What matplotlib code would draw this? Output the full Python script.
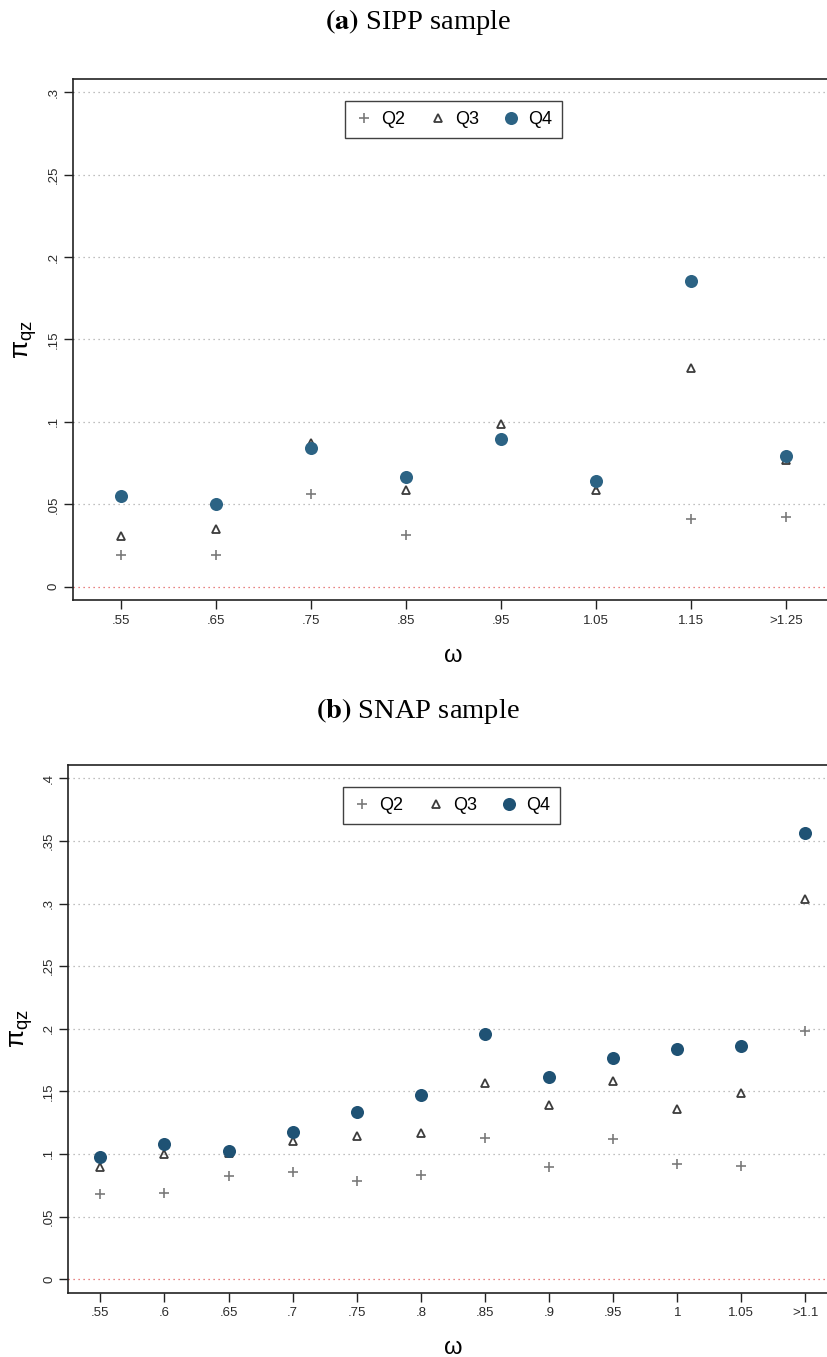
import numpy as np
import matplotlib
matplotlib.use('Agg')
import matplotlib.pyplot as plt

plt.rcParams['font.family'] = ['Liberation Sans', 'DejaVu Sans']
plt.rcParams['mathtext.fontset'] = 'custom'
plt.rcParams['mathtext.rm'] = 'Liberation Sans'
plt.rcParams['mathtext.it'] = 'Liberation Sans'
plt.rcParams['mathtext.default'] = 'regular'

# (a) SIPP sample
sipp_labels = ['.55', '.65', '.75', '.85', '.95', '1.05', '1.15', '>1.25']
sipp_q2 = [0.0195, 0.0195, 0.0562, 0.0312, 0.0890, 0.0620, 0.0414, 0.0421]
sipp_q3 = [0.0308, 0.0351, 0.0875, 0.0588, 0.0986, 0.0585, 0.1326, 0.0770]
sipp_q4 = [0.0552, 0.0503, 0.0843, 0.0666, 0.0895, 0.0640, 0.1855, 0.0791]
sipp_yticks = [0, 0.05, 0.1, 0.15, 0.2, 0.25, 0.3]
sipp_yticklabels = ['0', '.05', '.1', '.15', '.2', '.25', '.3']

# (b) SNAP sample
snap_labels = ['.55', '.6', '.65', '.7', '.75', '.8', '.85', '.9', '.95', '1', '1.05', '>1.1']
snap_q2 = [0.0676, 0.0686, 0.0824, 0.0855, 0.0783, 0.0835, 0.1131, 0.0897, 0.1118, 0.0921, 0.0904, 0.1980]
snap_q3 = [0.0893, 0.1000, 0.1010, 0.1104, 0.1142, 0.1166, 0.1570, 0.1394, 0.1580, 0.1359, 0.1487, 0.3036]
snap_q4 = [0.0979, 0.1076, 0.1025, 0.1176, 0.1331, 0.1470, 0.1960, 0.1618, 0.1763, 0.1835, 0.1863, 0.3561]
snap_yticks = [0, 0.05, 0.1, 0.15, 0.2, 0.25, 0.3, 0.35, 0.4]
snap_yticklabels = ['0', '.05', '.1', '.15', '.2', '.25', '.3', '.35', '.4']

W, H = 828, 1357
fig = plt.figure(figsize=(W / 100, H / 100), dpi=100)


def px_axes(left, right, top, bottom):
    return fig.add_axes([left / W, 1 - bottom / H, (right - left) / W, (bottom - top) / H])


def panel(ax, labels, q2, q3, q4, yticks, yticklabels, ylim, circ_col, leg_xy):
    x = np.arange(1, len(labels) + 1)
    for yv in yticks:
        if yv == 0:
            ax.axhline(yv, color='#e05a5a', lw=0.9, ls=(0, (1, 3)), zorder=1)
        else:
            ax.axhline(yv, color='#aaaaaa', lw=0.9, ls=(0, (1, 3)), zorder=1)
    ax.plot(x, q2, ls='none', marker='+', ms=6.5, mew=1.2, color='#7a7a7a', label='Q2', zorder=3)
    ax.plot(x, q3, ls='none', marker='^', ms=6, mew=1.3, mfc='none', mec='#3c3c3c', label='Q3', zorder=4)
    ax.plot(x, q4, ls='none', marker='o', ms=9.4, mew=0, color=circ_col, label='Q4', zorder=5)

    ax.set_xlim(0.5, len(labels) + 0.5)
    ax.set_ylim(*ylim)
    ax.set_xticks(x)
    ax.set_xticklabels(labels)
    ax.set_yticks(yticks)
    ax.set_yticklabels(yticklabels, rotation=90, va='center')
    ax.tick_params(axis='both', length=6.5, width=1.0, color='#222222',
                   labelsize=9.5, labelcolor='#2a2a2a')
    ax.tick_params(axis='x', pad=4)
    ax.tick_params(axis='y', pad=3)
    for s in ax.spines.values():
        s.set_linewidth(1.2)
        s.set_color('#222222')
    ax.set_xlabel('ω', fontsize=17, labelpad=13)
    ax.set_ylabel(r'$\pi_{qz}$', fontsize=19, labelpad=6)

    leg = ax.legend(loc='upper left', bbox_to_anchor=(leg_xy[0] / W, 1 - leg_xy[1] / H),
                    bbox_transform=fig.transFigure, ncol=3, frameon=True, fancybox=False,
                    fontsize=13, handlelength=1.0, handletextpad=0.45, columnspacing=1.3,
                    borderpad=0.55, borderaxespad=0, numpoints=1)
    leg.get_frame().set_edgecolor('#111111')
    leg.get_frame().set_linewidth(1.0)


ax1 = px_axes(73, 833.7, 78.6, 600)
panel(ax1, sipp_labels, sipp_q2, sipp_q3, sipp_q4, sipp_yticks, sipp_yticklabels,
      (-0.008, 0.3082), '#2c6384', (345, 101))

ax2 = px_axes(68.3, 837.5, 765, 1292.5)
panel(ax2, snap_labels, snap_q2, snap_q3, snap_q4, snap_yticks, snap_yticklabels,
      (-0.0107, 0.4107), '#1f5274', (343, 787))

fig.text(418 / W, 1 - 22 / H, r'$\mathbf{(a)}$ SIPP sample', ha='center', va='center',
         fontsize=20.5, family='Liberation Serif', math_fontfamily='stix')
fig.text(418 / W, 1 - 711 / H, r'$\mathbf{(b)}$ SNAP sample', ha='center', va='center',
         fontsize=20.5, family='Liberation Serif', math_fontfamily='stix')

fig.savefig('out.png', dpi=100)
